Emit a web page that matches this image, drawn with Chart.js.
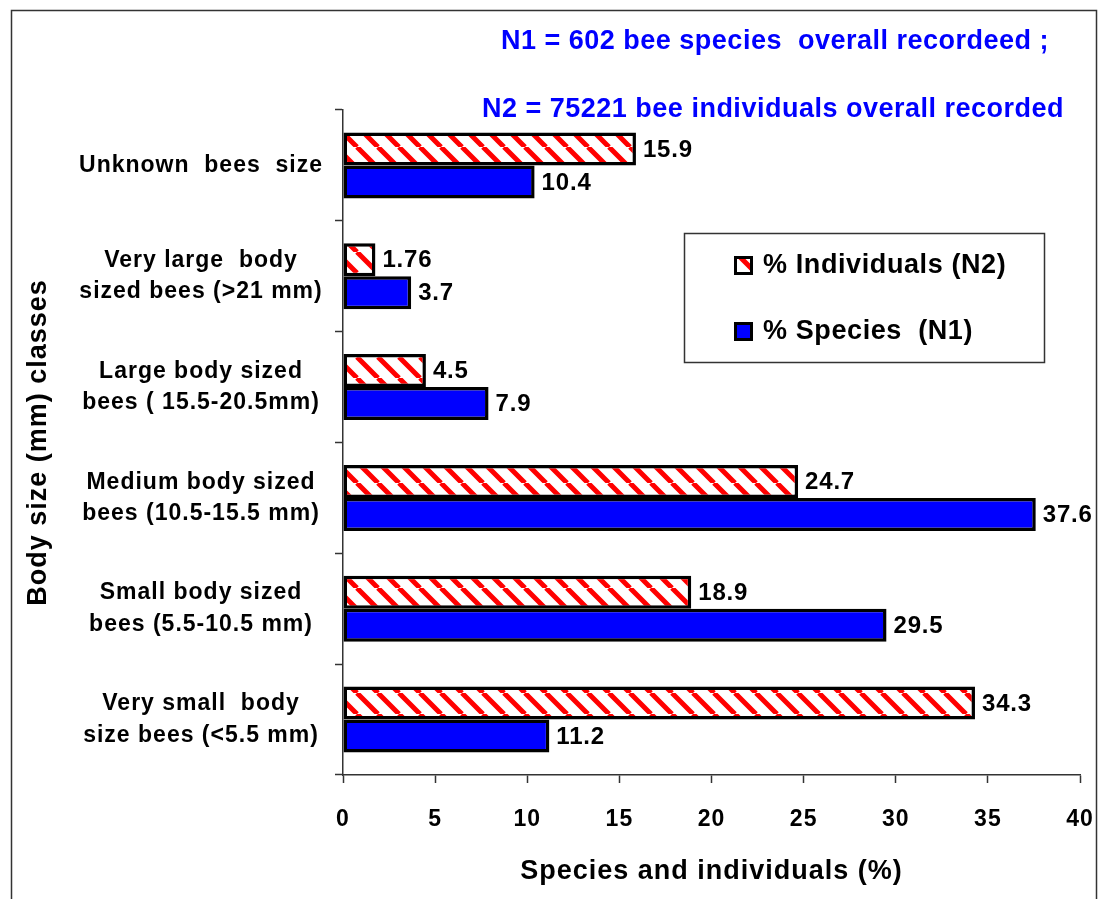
<!DOCTYPE html>
<html>
<head>
<meta charset="utf-8">
<script src="https://cdn.jsdelivr.net/npm/chart.js@4.4.0/dist/chart.umd.min.js"></script>
<style>
  html, body { margin: 0; padding: 0; background: #fff; }
  #wrap { width: 1099px; height: 899px; }
</style>
</head>
<body>
<div id="wrap"><canvas id="chart" width="1099" height="899"></canvas></div>
<script>
// Body-size classes (top to bottom) and their percentages
const sizeClasses = [
  'Unknown  bees  size',
  ['Very large  body', 'sized bees (>21 mm)'],
  ['Large body sized', 'bees ( 15.5-20.5mm)'],
  ['Medium body sized', 'bees (10.5-15.5 mm)'],
  ['Small body sized', 'bees (5.5-10.5 mm)'],
  ['Very small  body', 'size bees (<5.5 mm)']
];
const individualsPct = [15.9, 1.76, 4.5, 24.7, 18.9, 34.3];
const speciesPct = [10.4, 3.7, 7.9, 37.6, 29.5, 11.2];
const seriesNames = ['% Individuals (N2)', '% Species  (N1)'];
const axisMin = 0;
const axisMax = 40;
const axisStep = 5;
const headerLines = [
  'N1 = 602 bee species  overall recordeed ;',
  'N2 = 75221 bee individuals overall recorded'
];

const FONT = "'Liberation Sans', Arial, Helvetica, sans-serif";
Chart.defaults.font.family = FONT;
Chart.defaults.color = '#000';

// Red diagonal hatching on white
function stripePattern() {
  const s = 21;
  const c = document.createElement('canvas');
  c.width = s; c.height = s;
  const g = c.getContext('2d');
  g.fillStyle = '#ffffff';
  g.fillRect(0, 0, s, s);
  g.strokeStyle = '#ff0000';
  g.lineWidth = 5;
  g.beginPath();
  for (const o of [-s, 0, s]) { g.moveTo(o, 0); g.lineTo(o + s, s); }
  g.stroke();
  return g.createPattern(c, 'repeat');
}
const hatch = stripePattern();
const BLUE = '#0000ff';

// Slightly widened glyph spacing for all text
const spacing = {
  id: 'spacing',
  beforeUpdate(chart) { chart.ctx.letterSpacing = '1px'; },
  beforeDraw(chart) { chart.ctx.letterSpacing = '1px'; }
};

// White page with a thin frame
const frame = {
  id: 'frame',
  beforeDraw(chart) {
    const ctx = chart.ctx;
    ctx.save();
    ctx.fillStyle = '#fff';
    ctx.fillRect(0, 0, chart.width, chart.height);
    ctx.strokeStyle = '#333';
    ctx.lineWidth = 1.5;
    ctx.strokeRect(11.5, 10.5, 1085, 920);
    ctx.restore();
  }
};

// Value labels at the end of every bar
const valueLabels = {
  id: 'valueLabels',
  afterDatasetsDraw(chart) {
    const ctx = chart.ctx;
    ctx.save();
    ctx.font = 'bold 24px ' + FONT;
    ctx.fillStyle = '#000';
    ctx.textAlign = 'left';
    ctx.textBaseline = 'middle';
    ctx.letterSpacing = '0.8px';
    chart.data.datasets.forEach((ds, di) => {
      chart.getDatasetMeta(di).data.forEach((bar, i) => {
        ctx.fillText(String(ds.data[i]), bar.x + 7, bar.y + 1);
      });
    });
    ctx.restore();
  }
};

// Header notes and boxed legend
const notes = {
  id: 'notes',
  afterDraw(chart) {
    const ctx = chart.ctx;
    ctx.save();
    ctx.font = 'bold 27px ' + FONT;
    ctx.fillStyle = BLUE;
    ctx.textAlign = 'center';
    ctx.textBaseline = 'middle';
    ctx.letterSpacing = '0.5px';
    ctx.fillText(headerLines[0], 775, 42);
    ctx.fillText(headerLines[1], 773, 110);

    // legend box
    ctx.strokeStyle = '#333';
    ctx.lineWidth = 1.5;
    ctx.strokeRect(684.5, 233.5, 360, 129);
    const rows = [265, 331];
    chart.data.datasets.forEach((ds, i) => {
      const y = rows[i];
      ctx.fillStyle = '#000';
      ctx.fillRect(734, y - 9, 19, 19);
      ctx.fillStyle = ds.backgroundColor;
      ctx.fillRect(737, y - 6, 13, 13);
      ctx.fillStyle = '#000';
      ctx.textAlign = 'left';
      ctx.letterSpacing = '0.6px';
      ctx.fillText(ds.label, 763, y + 1);
    });
    ctx.restore();
  }
};

new Chart(document.getElementById('chart'), {
  type: 'bar',
  data: {
    labels: sizeClasses,
    datasets: [
      { label: seriesNames[0], data: individualsPct, backgroundColor: hatch,
        borderColor: '#000', borderWidth: 3.5, borderSkipped: false },
      { label: seriesNames[1], data: speciesPct, backgroundColor: BLUE,
        borderColor: '#000', borderWidth: 3.5, borderSkipped: false }
    ]
  },
  options: {
    indexAxis: 'y',
    responsive: false,
    animation: false,
    datasets: { bar: { categoryPercentage: 0.595, barPercentage: 1 } },
    layout: { padding: { top: 110, right: 19, left: 0, bottom: 0 } },
    plugins: { legend: { display: false }, tooltip: { enabled: false } },
    scales: {
      x: {
        min: axisMin, max: axisMax,
        ticks: { stepSize: axisStep, color: '#000', padding: 23,
                 font: { size: 23, weight: 'bold' } },
        grid: { drawOnChartArea: false, tickLength: 8, color: '#333', tickColor: '#333', tickWidth: 1.5 },
        border: { display: true, color: '#333', width: 1.5 },
        title: { display: true, text: 'Species and individuals (%)', color: '#000',
                 font: { size: 27, weight: 'bold' }, padding: { top: 0, bottom: 11 } },
        afterFit(scale) {
          scale.height = 124;
          scale.paddingLeft = 0;
          scale.paddingRight = 0;
        }
      },
      y: {
        ticks: { color: '#000', padding: 12, crossAlign: 'center',
                 font: { size: 23, weight: 'bold', lineHeight: 1.37 } },
        grid: { drawOnChartArea: false, offset: true, tickLength: 8, color: '#333', tickColor: '#333', tickWidth: 1.5 },
        border: { display: true, color: '#333', width: 1.5 },
        title: { display: true, text: 'Body size (mm) classes', color: '#000',
                 font: { size: 27, weight: 'bold' }, padding: { top: 22, bottom: 0 } },
        afterFit(scale) {
          scale.width = 343;
          scale.paddingTop = 0;
          scale.paddingBottom = 0;
        }
      }
    }
  },
  plugins: [spacing, frame, valueLabels, notes]
});
</script>
</body>
</html>
